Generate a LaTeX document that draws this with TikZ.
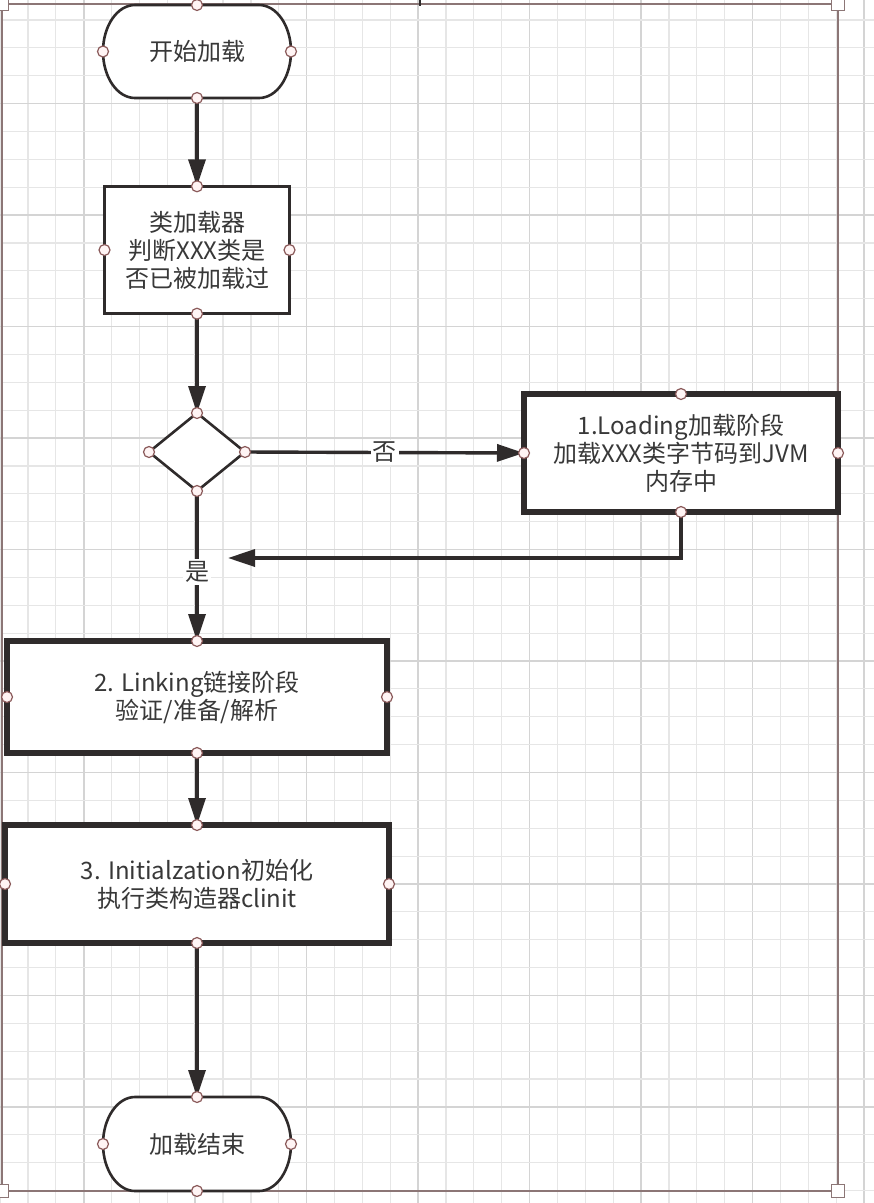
\documentclass[tikz,border=0pt]{standalone}
\usepackage{fontspec}
\setmainfont{Noto Sans CJK SC}
\usetikzlibrary{arrows.meta,shapes.geometric,calc}
\pgfdeclarelayer{background}
\pgfdeclarelayer{shapes}
\pgfsetlayers{background,shapes,main}
\definecolor{gridminor}{HTML}{E6E6E6}
\definecolor{gridmajor}{HTML}{D4D4D4}
\definecolor{framecol}{HTML}{8C7676}
\definecolor{handlecol}{HTML}{8A5A5A}
\definecolor{handlefill}{HTML}{FFF4F4}
\definecolor{ink}{HTML}{2F2B2B}
\definecolor{txt}{HTML}{383838}
\newcommand{\diagfont}{\fontsize{24}{28}\selectfont}
\tikzset{
  minorline/.style={draw=gridminor, line width=1.2pt},
  majorline/.style={draw=gridmajor, line width=1.6pt},
  frameline/.style={draw=framecol, line width=1.2pt},
  handle/.style={rectangle, draw=framecol, fill=white, line width=1.2pt, minimum size=13pt, inner sep=0pt, outer sep=0pt},
  termbox/.style={draw=none, minimum width=188pt, minimum height=93pt, inner sep=0pt, outer sep=0pt, align=center, font=\diagfont, text=txt},
  termline/.style={draw=ink, fill=white, line width=2.6pt},
  procbox/.style={rectangle, draw=ink, fill=white, line width=2.6pt, inner sep=0pt, outer sep=0pt, align=center, font=\diagfont, text=txt},
  heavybox/.style={procbox, line width=6pt},
  decision/.style={diamond, draw=ink, fill=white, line width=2.6pt, inner sep=0pt, outer sep=0pt, minimum width=96pt, minimum height=78pt},
  flow/.style={draw=ink, line width=3.4pt, -{Triangle[length=27pt,width=17pt]}},
  edgetext/.style={fill=white, inner sep=2pt, font=\diagfont, text=txt},
  port/.style={circle, draw=handlecol, fill=handlefill, line width=1.2pt, minimum size=11pt, inner sep=0pt},
}
\newcommand{\drawterm}[1]{%
  \draw[termline] ($(#1.north west)+(32,0)$) -- ($(#1.north east)+(-32,0)$)
    .. controls ($(#1.north east)+(-14.3,0)$) and ($(#1.east)+(0,-25.7)$) .. (#1.east)
    .. controls ($(#1.east)+(0,25.7)$) and ($(#1.south east)+(-14.3,0)$) .. ($(#1.south east)+(-32,0)$)
    -- ($(#1.south west)+(32,0)$)
    .. controls ($(#1.south west)+(14.3,0)$) and ($(#1.west)+(0,25.7)$) .. (#1.west)
    .. controls ($(#1.west)+(0,-25.7)$) and ($(#1.north west)+(14.3,0)$) .. cycle;}
\begin{document}
\begin{tikzpicture}[x=1pt,y=-1pt]
\useasboundingbox (0,0) rectangle (874,1203);
\begin{pgfonlayer}{background}
  \fill[white] (0,0) rectangle (874,1203);
  \foreach \k in {0,...,31}{\pgfmathsetmacro\gx{0.1+\k*27.87}\draw[minorline] (\gx,0) -- (\gx,1203);}
  \foreach \k in {3,7,...,31}{\pgfmathsetmacro\gx{0.1+\k*27.87}\draw[majorline] (\gx,0) -- (\gx,1203);}
  \foreach \k in {0,...,42}{\pgfmathsetmacro\gy{20+\k*27.87}\draw[minorline] (0,\gy) -- (874,\gy);}
  \foreach \k in {3,7,...,39}{\pgfmathsetmacro\gy{20+\k*27.87}\draw[majorline] (0,\gy) -- (874,\gy);}
  \draw[frameline] (2,4) rectangle (838,1191);
  \draw[ink, line width=1.5pt] (420,0) -- (420,6);
\end{pgfonlayer}

% nodes
\node[termbox] (start) at (197,51.5) {开始加载};
\node[procbox, minimum width=185pt, minimum height=127.4pt] (box1) at (197,250) {类加载器\\判断XXX类是\\否已被加载过};
\node[decision] (dia) at (197,452) {};
\node[heavybox, minimum width=314pt, minimum height=118pt] (load) at (681,453) {1.Loading加载阶段\\加载XXX类字节码到JVM\\内存中};
\node[heavybox, minimum width=380pt, minimum height=112pt] (link) at (197,697) {2. Linking链接阶段\\验证/准备/解析};
\node[heavybox, minimum width=384pt, minimum height=118pt] (init) at (197,884) {3. Initialzation初始化\\执行类构造器clinit};
\node[termbox, minimum height=94pt] (end) at (197,1144) {加载结束};
\coordinate (ret) at (228,558);

\begin{pgfonlayer}{shapes}
  \drawterm{start}
  \drawterm{end}
\end{pgfonlayer}

% connectors
\draw[flow] (start.south) -- (box1.north);
\draw[flow] (box1.south) -- (dia.north);
\draw[flow] (dia.east) -- node[edgetext] (no) {否} (load.west);
\draw[flow] (load.south) |- (ret);
\draw[flow] (dia.south) -- node[edgetext, pos=0.54] (yes) {是} (link.north);
\draw[flow] (link.south) -- (init.north);
\draw[flow] (init.south) -- (end.north);

% connection ports
\foreach \n in {start,box1,dia,load,link,init,end}{
  \foreach \a in {north,south,east,west}{
    \node[port] (p-\n-\a) at (\n.\a) {};
  }
}

% selection handles
\node[handle] (h1) at (2,4) {};
\node[handle] (h2) at (838,4) {};
\node[handle] (h3) at (838,1191) {};
\node[handle] (h4) at (2,1191) {};
\end{tikzpicture}
\end{document}
